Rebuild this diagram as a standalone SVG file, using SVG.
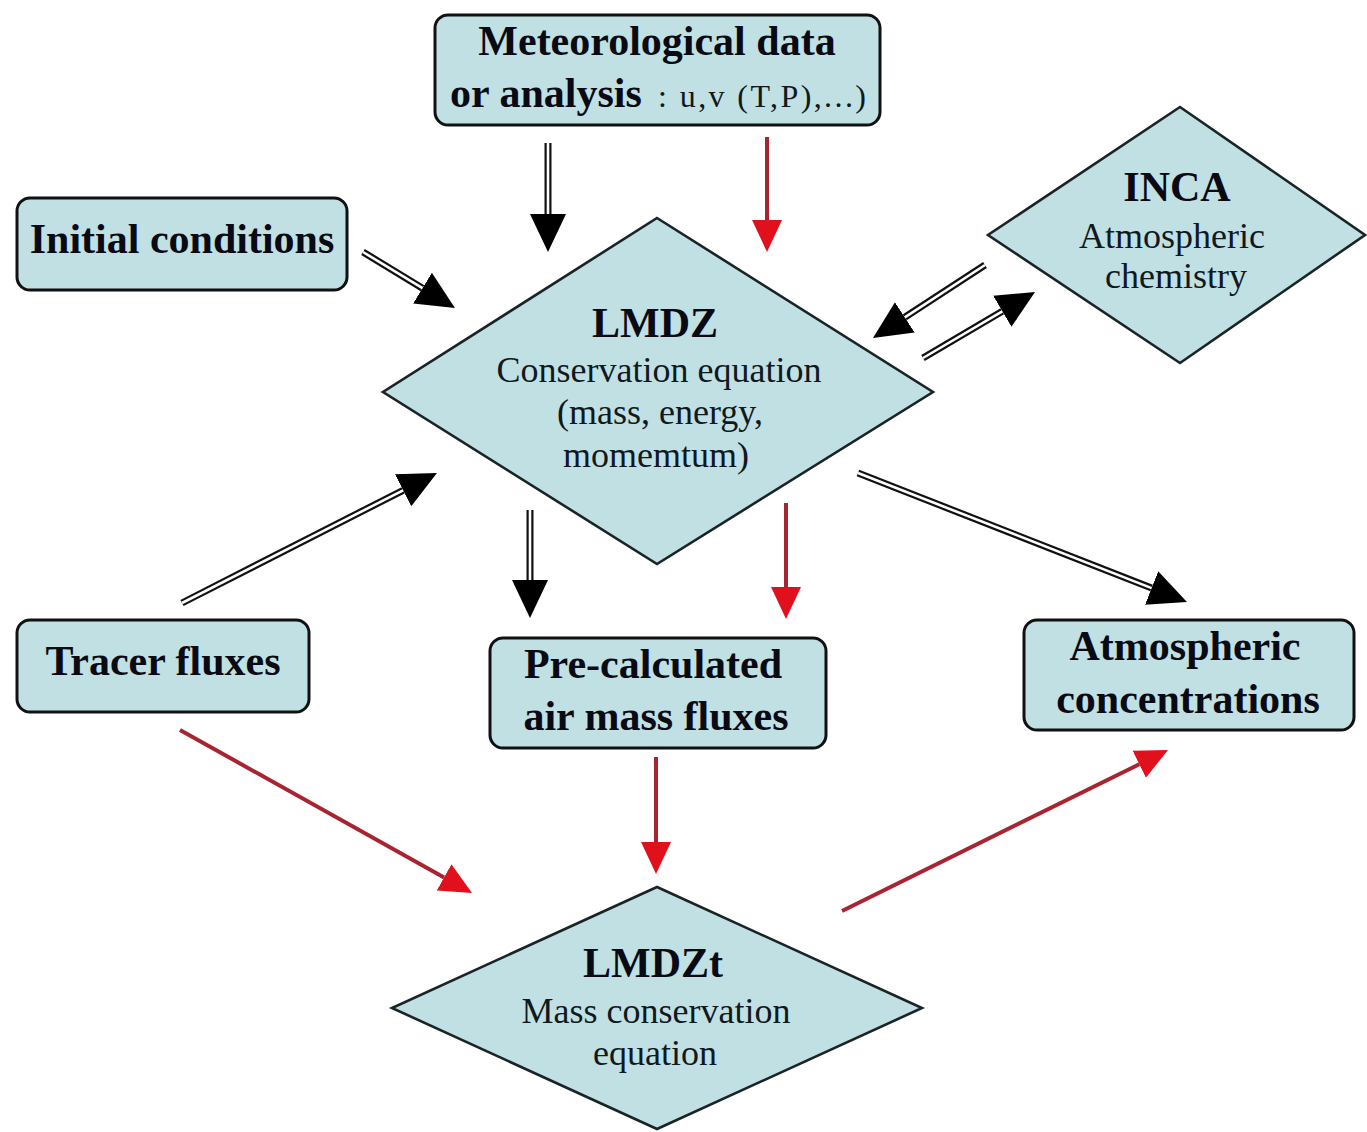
<svg xmlns="http://www.w3.org/2000/svg" width="1367" height="1132" viewBox="0 0 1367 1132">
<defs>
<style>
.box{fill:#c0e0e3;stroke:#111;stroke-width:3}
.dia{fill:#c0e0e3;stroke:#1a2426;stroke-width:2.6;stroke-linejoin:miter}
.b{font-family:"Liberation Serif","Times New Roman",serif;font-weight:bold;font-size:42px;fill:#0a0a14}
.r{font-family:"Liberation Serif","Times New Roman",serif;font-size:36px;fill:#101820}
.dbl{fill:none;stroke:#111;stroke-width:7;marker-end:url(#hb)}
.dblw{fill:none;stroke:#fff;stroke-width:2.6}
.red{fill:none;stroke:#a82430;stroke-width:4;marker-end:url(#hr)}
</style>
<marker id="hb" markerUnits="userSpaceOnUse" markerWidth="40" markerHeight="40" refX="0" refY="20" viewBox="0 0 40 40" orient="auto">
<path d="M0,2 L38,20 L0,38 z" fill="#000"/>
</marker>
<marker id="hr" markerUnits="userSpaceOnUse" markerWidth="34" markerHeight="34" refX="0" refY="17" viewBox="0 0 34 34" orient="auto">
<path d="M0,2 L32,17 L0,32 z" fill="#e0101c"/>
</marker>
</defs>
<rect width="1367" height="1132" fill="#fff"/>

<g id="meteo">
<rect class="box" x="435" y="15" width="445" height="110" rx="13"/>
<text class="b" x="657" y="55" text-anchor="middle">Meteorological data</text>
<text class="b" x="450" y="107">or analysis</text>
<text class="r" x="658" y="107" style="font-size:32px" textLength="208" lengthAdjust="spacing">: u,v (T,P),...)</text>
</g>

<g id="initial">
<rect class="box" x="17" y="198" width="330" height="92" rx="13"/>
<text class="b" x="182" y="253" text-anchor="middle">Initial conditions</text>
</g>

<g id="inca">
<polygon class="dia" points="1180,107 1365,235 1180,363 988,235"/>
<text class="b" x="1177" y="201" text-anchor="middle">INCA</text>
<text class="r" x="1172" y="248" text-anchor="middle">Atmospheric</text>
<text class="r" x="1176" y="288" text-anchor="middle">chemistry</text>
</g>

<g id="lmdz">
<polygon class="dia" points="657,218 933,392 657,564 383,392"/>
<text class="b" x="655" y="337" text-anchor="middle">LMDZ</text>
<text class="r" x="659" y="382" text-anchor="middle">Conservation equation</text>
<text class="r" x="660" y="424" text-anchor="middle">(mass, energy,</text>
<text class="r" x="656" y="467" text-anchor="middle">momemtum)</text>
</g>

<g id="tracer">
<rect class="box" x="17" y="620" width="292" height="92" rx="13"/>
<text class="b" x="163" y="675" text-anchor="middle">Tracer fluxes</text>
</g>

<g id="precalc">
<rect class="box" x="490" y="638" width="336" height="110" rx="13"/>
<text class="b" x="653" y="678" text-anchor="middle">Pre-calculated</text>
<text class="b" x="656" y="730" text-anchor="middle">air mass fluxes</text>
</g>

<g id="atmconc">
<rect class="box" x="1024" y="620" width="330" height="110" rx="13"/>
<text class="b" x="1185" y="660" text-anchor="middle">Atmospheric</text>
<text class="b" x="1188" y="713" text-anchor="middle">concentrations</text>
</g>

<g id="lmdzt">
<polygon class="dia" points="657,887 922,1008 657,1129 392,1008"/>
<text class="b" x="653" y="977" text-anchor="middle">LMDZt</text>
<text class="r" x="656" y="1023" text-anchor="middle">Mass conservation</text>
<text class="r" x="655" y="1065" text-anchor="middle">equation</text>
</g>

<g id="connectors">
<path class="dbl" d="M548,143 L548,214"/>
<path class="dblw" d="M548,143 L548,214"/>
<path class="red" d="M767,137 L767,220"/>
<path class="dbl" d="M363,252 L422.5,288.2"/>
<path class="dblw" d="M363,252 L422.5,288.2"/>
<path class="dbl" d="M985,265 L904.8,317.3"/>
<path class="dblw" d="M985,265 L904.8,317.3"/>
<path class="dbl" d="M923,358 L1002.3,311.3"/>
<path class="dblw" d="M923,358 L1002.3,311.3"/>
<path class="dbl" d="M182,603 L403.1,490.3"/>
<path class="dblw" d="M182,603 L403.1,490.3"/>
<path class="dbl" d="M530,510 L530,580"/>
<path class="dblw" d="M530,510 L530,580"/>
<path class="red" d="M786,503 L786,587"/>
<path class="dbl" d="M858,473 L1151.6,588.1"/>
<path class="dblw" d="M858,473 L1151.6,588.1"/>
<path class="red" d="M180,730 L444.1,877.4"/>
<path class="red" d="M656,757 L656,842"/>
<path class="red" d="M842,911 L1139.3,764.2"/>
</g>
</svg>
